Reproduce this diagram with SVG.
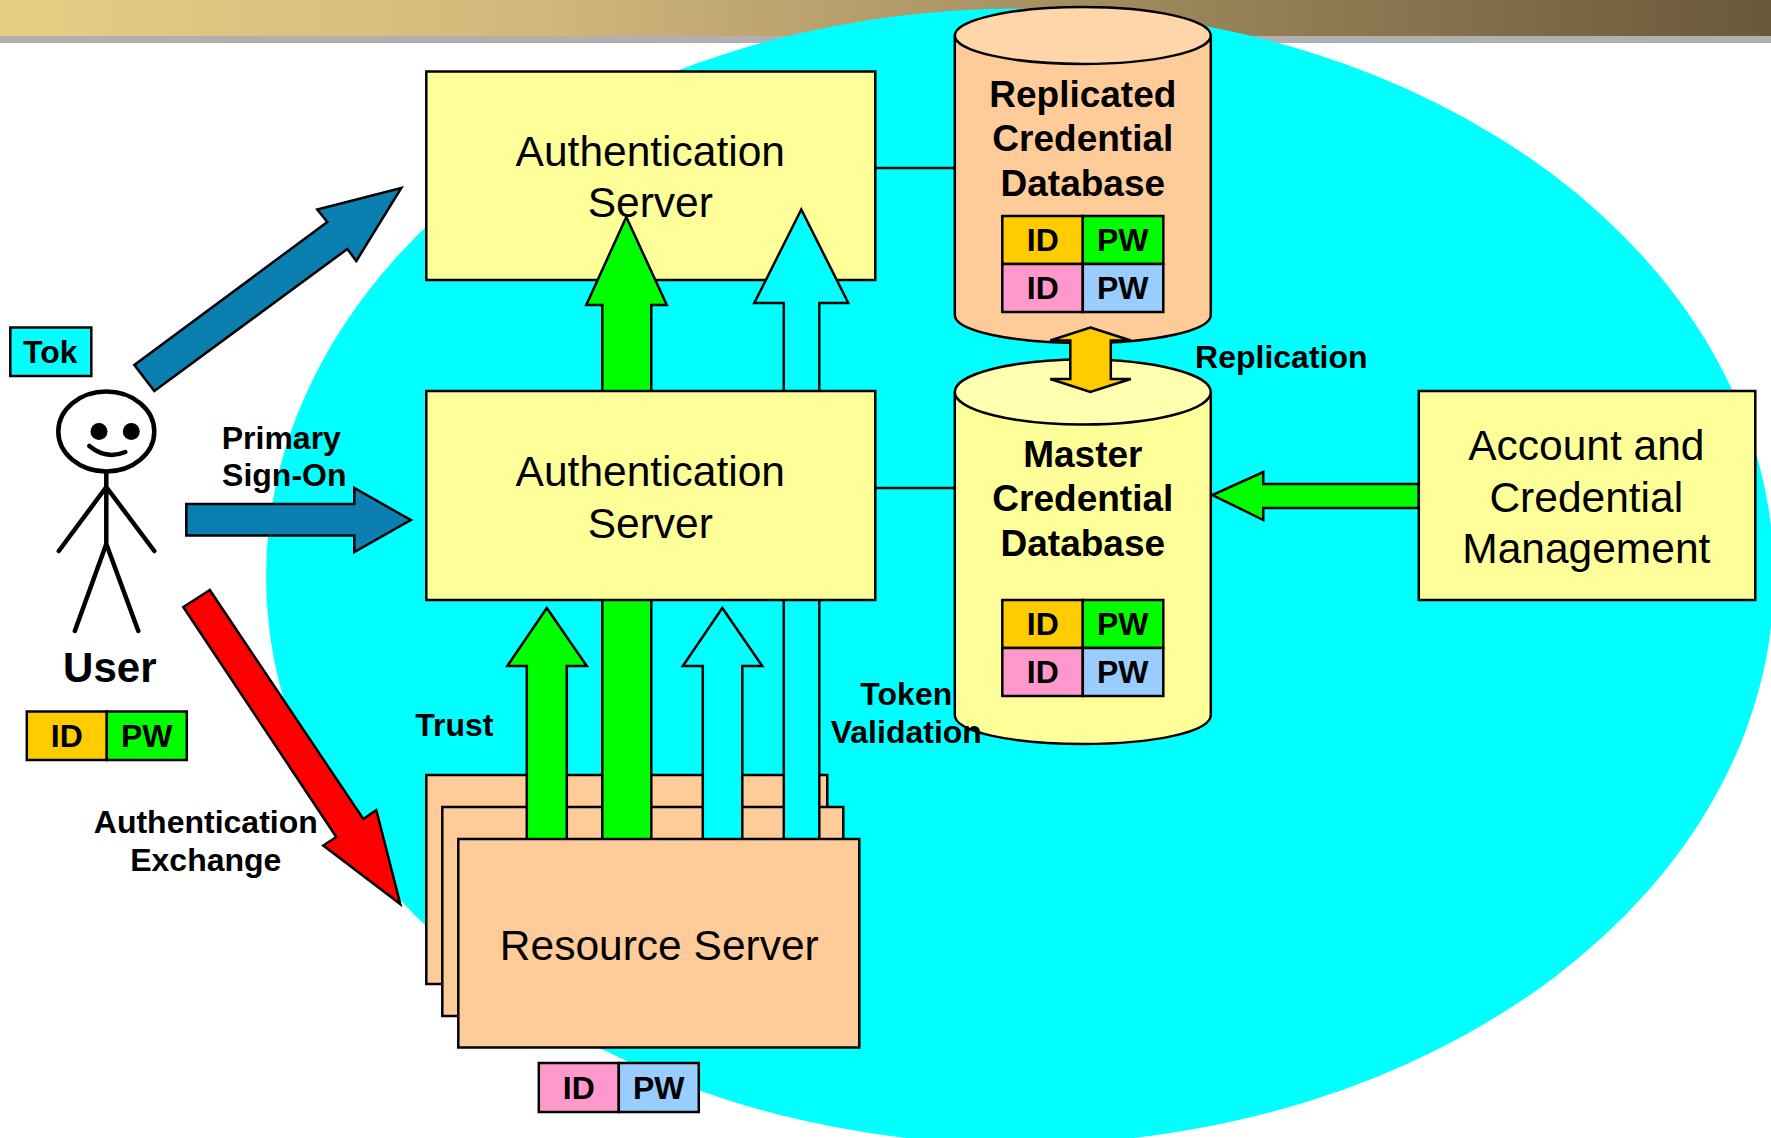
<svg xmlns="http://www.w3.org/2000/svg" width="1771" height="1138" viewBox="0 0 1771 1138">
<defs>
<linearGradient id="hdr" x1="0" y1="0" x2="1" y2="0">
<stop offset="0" stop-color="#E8CD84"/><stop offset="0.3" stop-color="#D3B87C"/><stop offset="0.55" stop-color="#AC9566"/><stop offset="1" stop-color="#69583A"/>
</linearGradient>
</defs>
<style>
text{font-family:"Liberation Sans",Arial,sans-serif;fill:#000;text-anchor:middle}
.r{font-size:42.5px}
.b{font-size:32px;font-weight:bold}
.d{font-size:37px;font-weight:bold}
.u{font-size:42px;font-weight:bold}
.s{stroke:#000;stroke-width:2.5}
.y{fill:#FFFF99}
.o{fill:#FFCC99}
.g{fill:#00FF00}
.c{fill:#00FFFF}
.bl{fill:#0B80B0}
.a{fill:#FFCC00}
.p{fill:#FF99CC}
.v{fill:#99CCFF}
.l{fill:none;stroke:#000;stroke-width:2.5}
.f{fill:none;stroke:#000;stroke-width:4.5;stroke-linecap:round}
</style>
<rect width="1771" height="1138" fill="#fff"/>
<rect width="1771" height="36" fill="url(#hdr)"/>
<rect y="36" width="1771" height="7" fill="#B0B0B0"/>
<ellipse id="domain" cx="1020" cy="576.500" rx="754" ry="568" fill="#00FFFF"/>

<g transform="translate(0.300 1)">
<g id="wires">
<path class="l" d="M875 167H955M875 487H955"/>
</g>

<g id="auth-server-top">
<rect class="y s" x="426" y="70.500" width="449" height="208.500"/>
<text class="r" x="650" y="165">Authentication</text>
<text class="r" x="650" y="215.500">Server</text>
</g>

<g id="resource-back">
<rect class="o s" x="426" y="774" width="401" height="209"/>
<rect class="o s" x="442" y="806" width="401" height="209"/>
</g>

<g id="connectors">
<polygon class="g s" points="602,840 602,304 586,304 626,216 666.500,304 651,304 651,840"/>
<polygon class="c s" points="783.500,840 783.500,302 754,302 801,208.500 848,302 819,302 819,840"/>
<polygon class="g s" points="526.500,840 526.500,665 507,665 546.500,607 586.500,665 566.500,665 566.500,840"/>
<polygon class="c s" points="702.500,840 702.500,665 682.500,665 722,607 762,665 742,665 742,840"/>
<polygon class="bl s" points="134,364 154,390 347,248 356,260 401,187 317,208.500 327,221"/>
<polygon class="bl s" points="186,503 354,503 354,487 410.500,519 354,551 354,534.500 186,534.500"/>
<polygon points="209.500,589 183,606 336,836 323,844.500 400,903 376,809 363,818" fill="#FF0000" stroke="#000" stroke-width="2.500"/>
<polygon class="g s" points="1418.500,483 1263,483 1263,471 1212,494 1263,519 1263,507 1418.500,507"/>
</g>

<g id="auth-server-mid">
<rect class="y s" x="426" y="390" width="449" height="209"/>
<text class="r" x="650" y="485">Authentication</text>
<text class="r" x="650" y="536.500">Server</text>
</g>

<g id="resource-server">
<rect class="o s" x="458" y="838" width="401" height="208.500"/>
<text class="r" x="659" y="958.500">Resource Server</text>
</g>

<g id="user">
<ellipse cx="106" cy="430.500" rx="48" ry="40" fill="#fff" stroke="#000" stroke-width="4.500"/>
<ellipse cx="98.700" cy="430.500" rx="8.500" ry="8.500"/>
<ellipse cx="131" cy="430.500" rx="8.500" ry="8.500"/>
<path class="f" d="M89 445Q106 459 125 451"/>
<path class="f" d="M106 471.500V543M106 486L58.500 550M106 486L154 550M106 543L74.500 630M106 543L138 630"/>
<text class="u" x="109.500" y="681">User</text>
</g>

<g id="token">
<rect class="c s" x="10" y="326.500" width="81" height="48.500"/>
<text class="b" x="50" y="362">Tok</text>
</g>

<g id="user-credentials">
<rect class="a s" x="26.500" y="710.500" width="80" height="48.500"/>
<rect class="g s" x="106.500" y="710.500" width="80" height="48.500"/>
<text class="b" x="66.500" y="746">ID</text>
<text class="b" x="146.500" y="746">PW</text>
</g>

<g id="resource-credentials">
<rect class="p s" x="538.500" y="1062" width="80" height="49"/>
<rect class="v s" x="618.500" y="1062" width="80" height="49"/>
<text class="b" x="578.500" y="1098">ID</text>
<text class="b" x="658.500" y="1098">PW</text>
</g>

<g id="replicated-db">
<path class="o s" d="M954.500 34.500V314C954.500 330 1012 342 1082.500 342S1210.500 330 1210.500 314V34.500"/>
<ellipse cx="1082.500" cy="34.500" rx="128" ry="28.500" fill="#FFD5AA" stroke="#000" stroke-width="2.500"/>
<text class="d" x="1082.500" y="106">Replicated</text>
<text class="d" x="1082.500" y="150">Credential</text>
<text class="d" x="1082.500" y="195">Database</text>
<rect class="a s" x="1002" y="215" width="80.500" height="48"/>
<rect class="g s" x="1082.500" y="215" width="80.500" height="48"/>
<rect class="p s" x="1002" y="263" width="80.500" height="48"/>
<rect class="v s" x="1082.500" y="263" width="80.500" height="48"/>
<text class="b" x="1042.500" y="250">ID</text>
<text class="b" x="1122.500" y="250">PW</text>
<text class="b" x="1042.500" y="298">ID</text>
<text class="b" x="1122.500" y="298">PW</text>
</g>

<g id="master-db">
<path class="y s" d="M954.500 391V714C954.500 731 1012 743 1082.500 743S1210.500 731 1210.500 714V391"/>
<ellipse cx="1082.500" cy="391" rx="128" ry="32.500" fill="#FFFFB0" stroke="#000" stroke-width="2.500"/>
<text class="d" x="1082.500" y="466">Master</text>
<text class="d" x="1082.500" y="510">Credential</text>
<text class="d" x="1082.500" y="555">Database</text>
<rect class="a s" x="1002" y="599" width="80.500" height="48"/>
<rect class="g s" x="1082.500" y="599" width="80.500" height="48"/>
<rect class="p s" x="1002" y="647" width="80.500" height="48"/>
<rect class="v s" x="1082.500" y="647" width="80.500" height="48"/>
<text class="b" x="1042.500" y="634">ID</text>
<text class="b" x="1122.500" y="634">PW</text>
<text class="b" x="1042.500" y="682">ID</text>
<text class="b" x="1122.500" y="682">PW</text>
</g>

<g id="replication-arrow">
<polygon class="a s" points="1090,326.500 1130.500,339.500 1110.500,339.500 1110.500,378 1130.500,378 1090,391 1050,378 1070,378 1070,339.500 1050,339.500"/>
</g>

<g id="account-management">
<rect class="y s" x="1418.500" y="390" width="336.500" height="209"/>
<text class="r" x="1586" y="459">Account and</text>
<text class="r" x="1586" y="511">Credential</text>
<text class="r" x="1586" y="562">Management</text>
</g>

<g id="labels">
<text class="b" x="1281" y="367">Replication</text>
<text class="b" x="281" y="448">Primary</text>
<text class="b" x="284" y="485">Sign-On</text>
<text class="b" x="454" y="735">Trust</text>
<text class="b" x="906" y="704">Token</text>
<text class="b" x="906" y="742">Validation</text>
<text class="b" x="205.500" y="832">Authentication</text>
<text class="b" x="205.500" y="870">Exchange</text>
</g>
</g>
</svg>
